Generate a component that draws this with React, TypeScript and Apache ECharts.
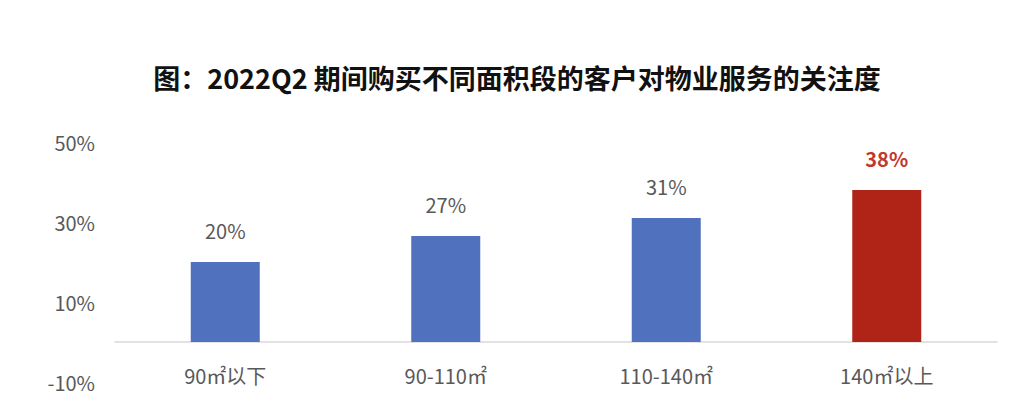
import React, { useEffect, useRef } from "react";
import * as echarts from "echarts";

const titleText = "图：2022Q2 期间购买不同面积段的客户对物业服务的关注度";
const categories = ["90㎡以下", "90-110㎡", "110-140㎡", "140㎡以上"];
const values = [20, 26.5, 31, 38];
const highlightIndex = 3;
const yMin = -10;
const yMax = 50;
const yInterval = 20;

const FONT = "'Noto Sans CJK SC', 'Microsoft YaHei', sans-serif";

export default function App() {
  const ref = useRef<HTMLDivElement>(null);
  useEffect(() => {
    document.body.style.margin = "0";
    if (!ref.current) return;
    const chart = echarts.init(ref.current, undefined, { renderer: "svg" });
    chart.setOption({
      animation: false,
      backgroundColor: "#ffffff",
      title: {
        text: titleText,
        left: "center",
        top: 59,
        textStyle: { fontFamily: FONT, fontSize: 27, fontWeight: "bold", color: "#111111" },
      },
      grid: { left: 115, width: 882, top: 142, height: 240, containLabel: false },
      xAxis: {
        type: "category",
        data: categories,
        axisLine: { show: true, onZero: true, lineStyle: { color: "#d9d9d9", width: 1.5 } },
        axisTick: { show: false },
        axisLabel: { margin: -17, color: "#595959", fontSize: 20, fontFamily: FONT },
        splitLine: { show: false },
      },
      yAxis: {
        type: "value",
        min: yMin,
        max: yMax,
        interval: yInterval,
        axisLine: { show: false },
        axisTick: { show: false },
        splitLine: { show: false },
        axisLabel: {
          margin: 20,
          color: "#595959",
          fontSize: 20,
          fontFamily: FONT,
          formatter: (v: number) => `${v}%`,
        },
      },
      series: [
        {
          type: "bar",
          barWidth: 69,
          data: values.map((v, i) => ({
            value: v,
            itemStyle: { color: i === highlightIndex ? "#b02418" : "#4f71be" },
            label: i === highlightIndex
              ? { color: "#c0392b", fontWeight: "bold" }
              : { color: "#595959", fontWeight: "normal" },
          })),
          label: {
            show: true,
            position: "top",
            distance: 22,
            fontSize: 20,
            fontFamily: FONT,
            formatter: (p: any) => `${Math.round(p.value)}%`,
          },
        },
      ],
    });
    return () => chart.dispose();
  }, []);
  return (
    <div
      ref={ref}
      style={{ position: "absolute", left: 0, top: 0, width: 1034, height: 418 }}
    />
  );
}
